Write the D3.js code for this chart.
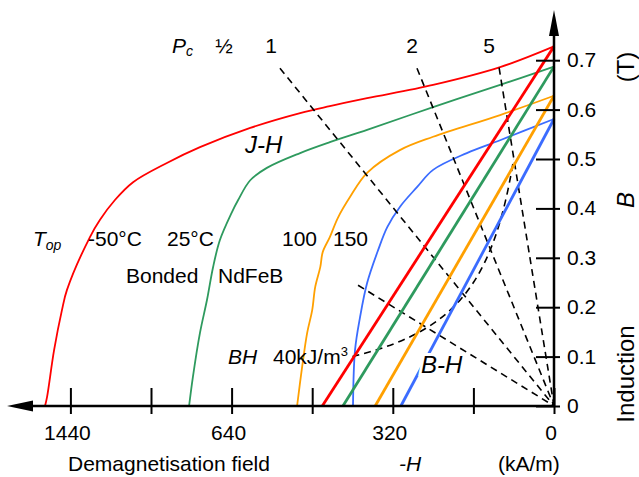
<!DOCTYPE html>
<html>
<head>
<meta charset="utf-8">
<script src="https://cdn.jsdelivr.net/npm/d3@7"></script>
<style>
  html, body { margin: 0; padding: 0; background: #fff; }
  svg { display: block; font-family: "Liberation Sans", Arial, sans-serif; }
</style>
</head>
<body>
<svg id="chart" width="639" height="477"></svg>
<script>
// Demagnetisation field -H (kA/m) and induction B (T), bonded NdFeB.
const temperatures = ["-50°C", "25°C", "100", "150"];
const colors = ["#ff0000", "#2e9a5e", "#ffa000", "#3b6cff"];

// Intrinsic (J-H) curves, [H kA/m, B T]
const jhMinus50 = [[0,0.728],[107,0.686],[240,0.65],[371,0.623],[445,0.607],[504,0.593],[603,0.563],[797,0.524],[961,0.492],[1129,0.453],[1219,0.417],[1293,0.377],[1343,0.342],[1457,0.235],[1482,0.194],[1521,0.113],[1556,0.018],[1566,0]];
const jh25 = [[0,0.687],[107,0.65],[240,0.605],[371,0.559],[445,0.534],[504,0.512],[570,0.482],[603,0.457],[627,0.417],[640,0.391],[698,0.336],[732,0.281],[762,0.215],[797,0.148],[832,0.059],[851,0]];
const jh100 = [[0,0.628],[107,0.589],[240,0.545],[306,0.518],[371,0.472],[405,0.423],[429,0.381],[445,0.342],[459,0.312],[464,0.281],[474,0.241],[480,0.194],[490,0.148],[500,0.079],[510,0]];
const jh150 = [[0,0.581],[107,0.538],[173,0.512],[240,0.478],[272,0.443],[306,0.403],[331,0.362],[349,0.316],[371,0.249],[385,0.18],[395,0.113],[399,0]];
const jhCurves = [jhMinus50, jh25, jh100, jh150];

// Normal (B-H) lines: remanence (T) and coercivity (kA/m)
const remanence = [0.728, 0.687, 0.628, 0.581];
const coercivity = [460, 419, 355, 304];

// Load lines B = Pc * mu0 * H, drawn out to these fields (kA/m)
const pcValues = [0.5, 1, 2, 5];
const pcLabels = ["½", "1", "2", "5"];
const pcOuterField = [389, 544, 272, 109];

// Constant energy product contour BH = 40 kJ/m3
const energyProduct = 40;
const energyFields = [400, 340, 290, 250, 215, 185, 160, 140, 122, 108, 96, 86, 80];

// Axis ticks
const xTickValues = [0, 160, 320, 480, 640, 1040, 1440];
const xLabelValues = [0, 320, 640, 1440];
const yTickValues = [0, 0.1, 0.2, 0.3, 0.4, 0.5, 0.6, 0.7];

const mu0 = 4 * Math.PI * 1e-4; // T per kA/m

const svg = d3.select("#chart");
const originX = 554, originY = 406;

// Field axis is compressed beyond 640 kA/m
const x = d3.scaleLinear().domain([0, 640, 1440]).range([originX, 231.6, 70.4]);
const y = d3.scaleLinear().domain([0, 0.7]).range([originY, 60.2]);

const smooth = d3.line().x(d => x(d[0])).y(d => y(d[1])).curve(d3.curveCatmullRom.alpha(0.5));
const straight = d3.line().x(d => x(d[0])).y(d => y(d[1]));

// J-H curves
const gCurves = svg.append("g");
jhCurves.forEach((c, i) => {
  gCurves.append("path").attr("d", smooth(c))
    .attr("fill", "none").attr("stroke", colors[i]).attr("stroke-width", 1.8);
});

// Load lines
const gDash = svg.append("g").attr("fill", "none").attr("stroke", "#000")
  .attr("stroke-width", 1.6).attr("stroke-dasharray", "7,5");
pcValues.forEach((pc, i) => {
  const h = pcOuterField[i];
  gDash.append("path").attr("d", straight([[h, pc * mu0 * h], [0, 0]]));
});
// Energy product contour
gDash.append("path").attr("d", smooth(energyFields.map(h => [h, energyProduct / h])));

// B-H lines
const gBH = svg.append("g");
remanence.forEach((br, i) => {
  gBH.append("path").attr("d", straight([[0, br], [coercivity[i], 0]]))
    .attr("fill", "none").attr("stroke", colors[i]).attr("stroke-width", 2.8);
});

// Axes
const xAxis = d3.axisBottom(x).tickValues(xTickValues).tickSize(0).tickFormat("");
const gx = svg.append("g").attr("transform", `translate(0,${originY})`).call(xAxis);
gx.select(".domain").remove();
gx.selectAll(".tick line").attr("y1", -18).attr("y2", 8).attr("stroke", "#000").attr("stroke-width", 2);

const yAxis = d3.axisRight(y).tickValues(yTickValues).tickSize(0).tickFormat("");
const gy = svg.append("g").attr("transform", `translate(${originX},0)`).call(yAxis);
gy.select(".domain").remove();
gy.selectAll(".tick line").attr("x1", -18).attr("x2", 6).attr("stroke", "#000").attr("stroke-width", 2);

svg.append("line").attr("x1", 20).attr("x2", originX + 1).attr("y1", originY).attr("y2", originY)
  .attr("stroke", "#000").attr("stroke-width", 2.5);
svg.append("line").attr("x1", originX).attr("x2", originX).attr("y1", originY + 1).attr("y2", 25)
  .attr("stroke", "#000").attr("stroke-width", 2.5);
svg.append("path").attr("d", `M7,${originY} L33,${originY - 5.5} L33,${originY + 5.5} Z`).attr("fill", "#000");
svg.append("path").attr("d", `M${originX},10 L${originX - 5},36 L${originX + 5},36 Z`).attr("fill", "#000");

// Tick labels
const fs = 21;
svg.append("g").selectAll("text").data(xLabelValues).join("text")
  .attr("x", d => x(d) - 3).attr("y", 440).attr("text-anchor", "middle")
  .attr("font-size", fs).text(d => d);
svg.append("g").selectAll("text").data(yTickValues).join("text")
  .attr("x", 567).attr("y", d => y(d) + 7).attr("font-size", fs)
  .text(d => d === 0 ? "0" : d3.format(".1f")(d));

// Axis titles
svg.append("text").attr("x", 68).attr("y", 471).attr("font-size", fs).text("Demagnetisation field");
svg.append("text").attr("x", 399).attr("y", 471).attr("font-size", fs).attr("font-style", "italic").text("-H");
svg.append("text").attr("x", 498).attr("y", 471).attr("font-size", fs).text("(kA/m)");

const rotated = (t, cy, italic) => svg.append("text")
  .attr("transform", `translate(634,${cy}) rotate(-90)`).attr("text-anchor", "middle")
  .attr("font-size", 24).attr("font-style", italic ? "italic" : "normal").text(t);
rotated("(T)", 67, false);
rotated("B", 200, true);
rotated("Induction", 374, false);

// Annotations
const pcText = svg.append("text").attr("x", 172).attr("y", 53).attr("font-size", fs).attr("font-style", "italic");
pcText.append("tspan").text("P");
pcText.append("tspan").attr("font-size", 14).attr("dy", 3).text("c");
const pcX = [224, 271, 412, 489];
svg.append("g").selectAll("text").data(pcLabels).join("text")
  .attr("x", (d, i) => pcX[i]).attr("y", 53).attr("text-anchor", "middle").attr("font-size", fs).text(d => d);

svg.append("text").attr("x", 245).attr("y", 153).attr("font-size", 24).attr("font-style", "italic").text("J-H");

const topText = svg.append("text").attr("x", 33).attr("y", 246).attr("font-size", fs).attr("font-style", "italic");
topText.append("tspan").text("T");
topText.append("tspan").attr("font-size", 14).attr("dy", 4).text("op");
const tempX = [88, 167, 282, 333];
svg.append("g").selectAll("text").data(temperatures).join("text")
  .attr("x", (d, i) => tempX[i]).attr("y", 246).attr("font-size", fs).text(d => d);

svg.append("text").attr("x", 126).attr("y", 283).attr("font-size", fs).text("Bonded");
svg.append("text").attr("x", 218).attr("y", 283).attr("font-size", fs).text("NdFeB");

svg.append("text").attr("x", 228).attr("y", 364).attr("font-size", fs).attr("font-style", "italic").text("BH");
const en = svg.append("text").attr("x", 273).attr("y", 364).attr("font-size", fs);
en.append("tspan").text(energyProduct + "kJ/m");
en.append("tspan").attr("font-size", 13).attr("dy", -8).text("3");

svg.append("text").attr("x", 421).attr("y", 373).attr("font-size", 24).attr("font-style", "italic")
  .attr("stroke", "#fff").attr("stroke-width", 6).attr("paint-order", "stroke").text("B-H");
</script>
</body>
</html>
